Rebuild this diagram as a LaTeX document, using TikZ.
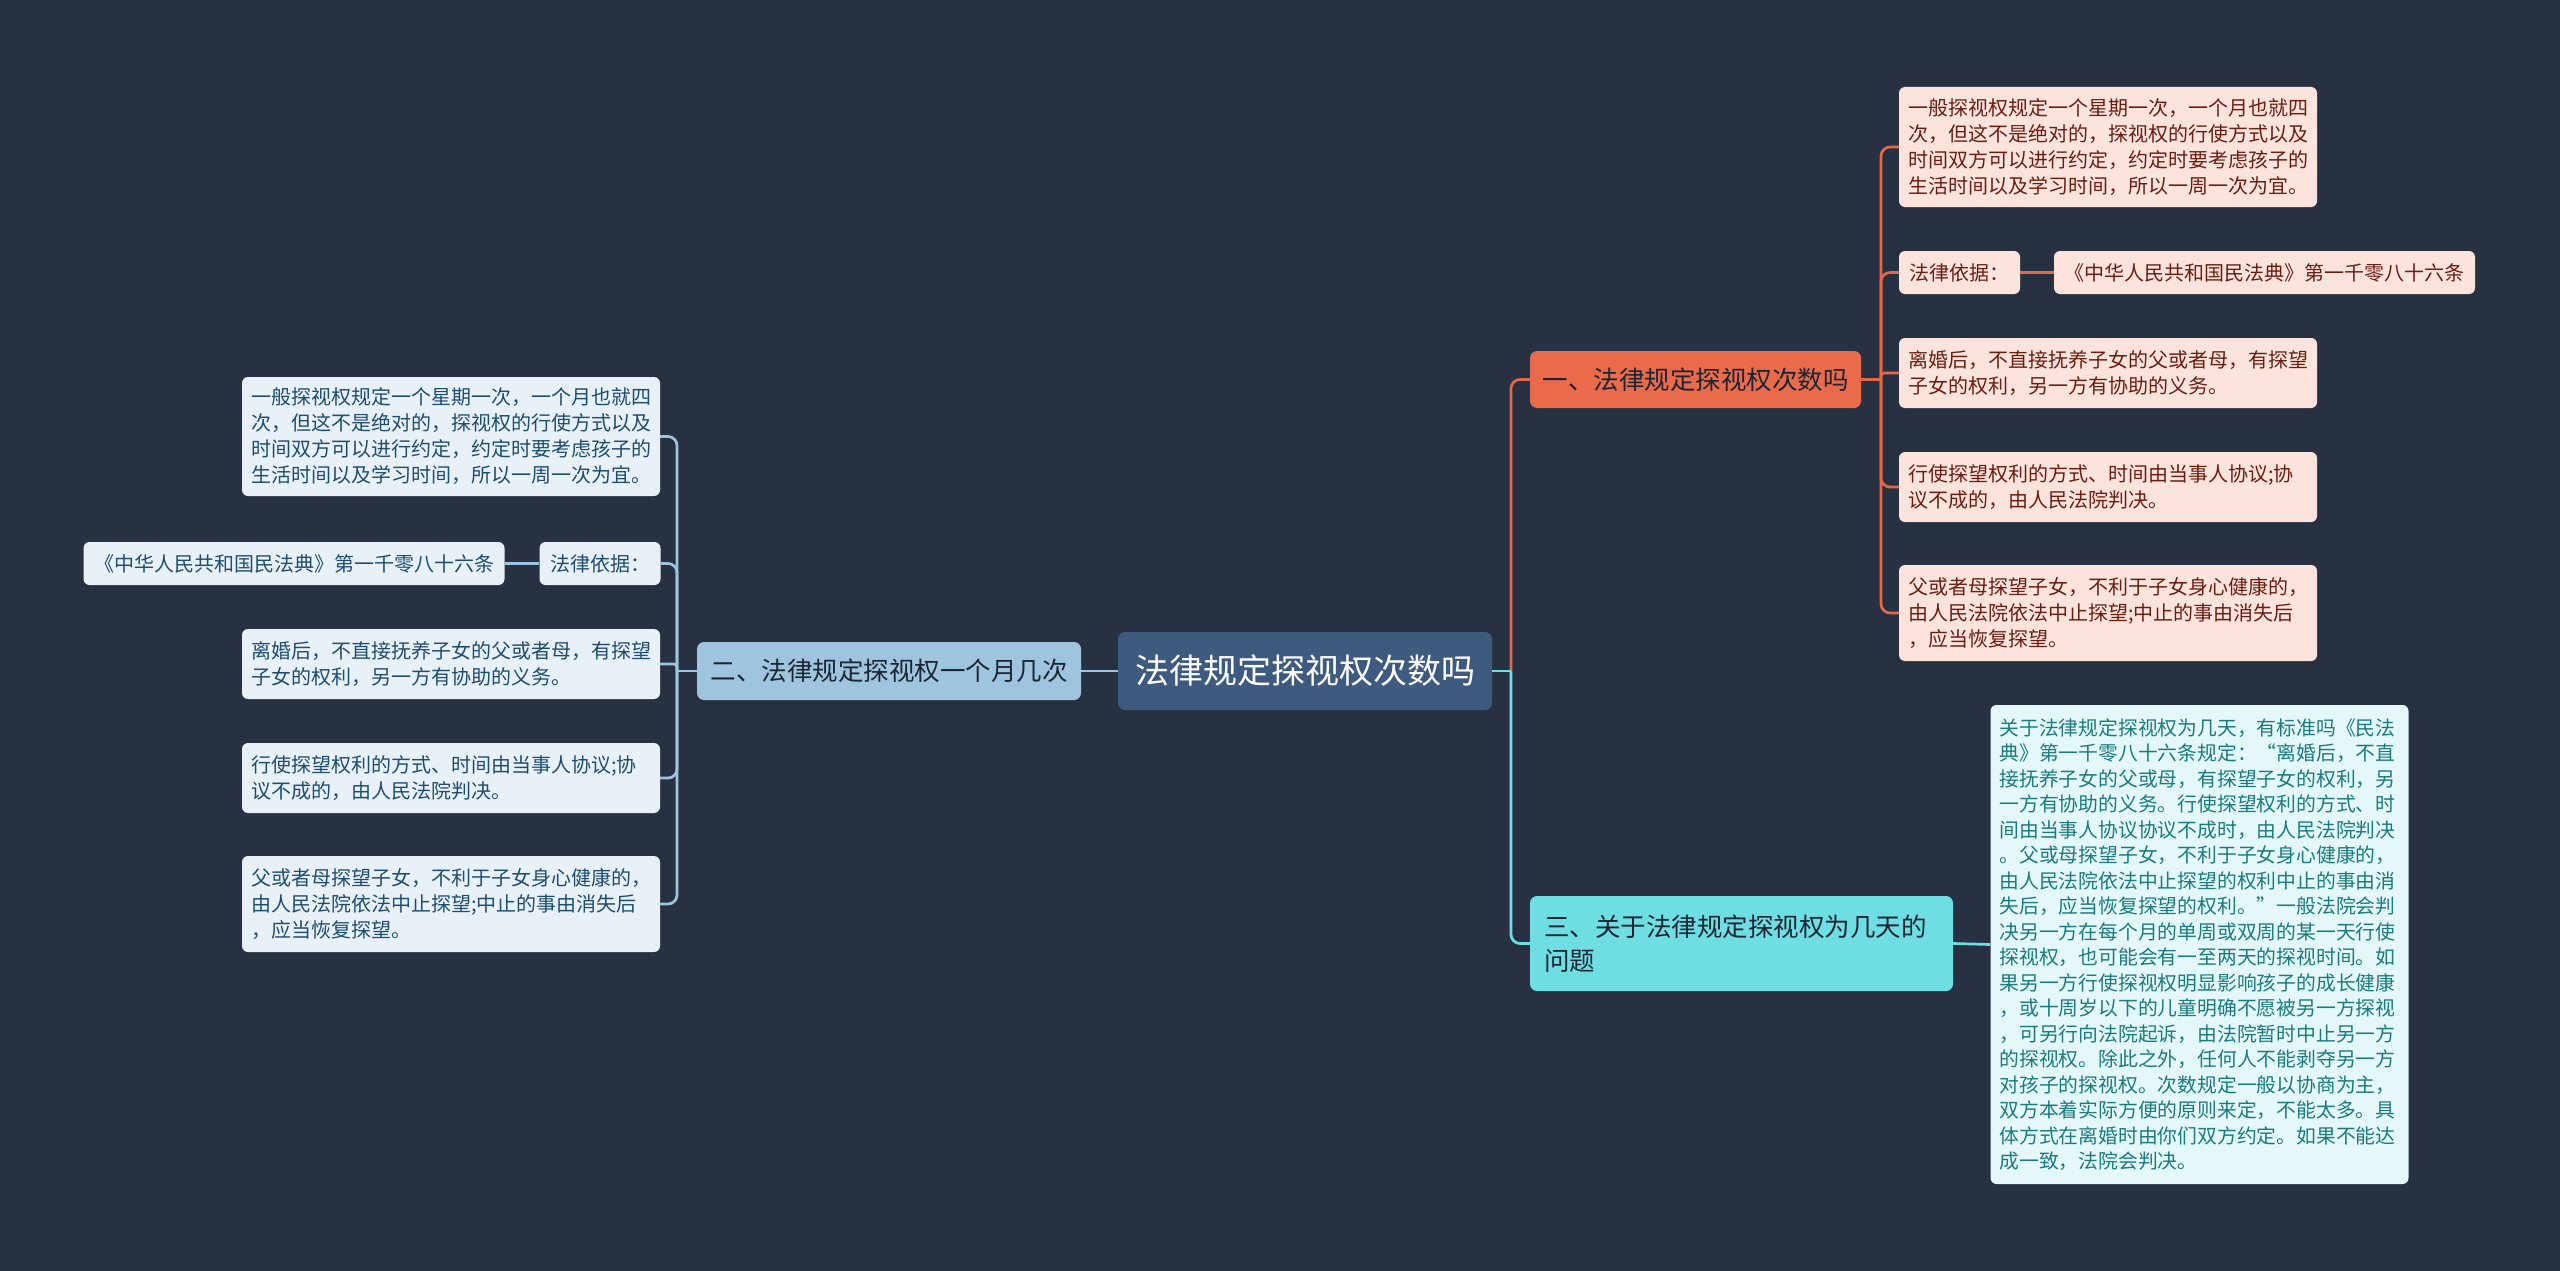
\documentclass[tikz,border=0pt]{standalone}
\usepackage{fontspec}
\setmainfont{Noto Sans CJK SC}
\definecolor{bgc}{HTML}{283142}
\definecolor{rootfill}{HTML}{3E5A7E}
\definecolor{orfill}{HTML}{EA6A4C}
\definecolor{orleaf}{HTML}{FCE4DD}
\definecolor{ortext}{HTML}{6A1E12}
\definecolor{orline}{HTML}{E2694C}
\definecolor{blfill}{HTML}{9FC4DD}
\definecolor{blleaf}{HTML}{E8F1F7}
\definecolor{bltext}{HTML}{1F4D6E}
\definecolor{blline}{HTML}{9FC4DD}
\definecolor{cyfill}{HTML}{6EDEE3}
\definecolor{cyleaf}{HTML}{E4F8F9}
\definecolor{cytext}{HTML}{1B7B7E}
\definecolor{cyline}{HTML}{6EDEE3}
\definecolor{darktext}{HTML}{1C2633}
\begin{document}
\begin{tikzpicture}[x=1pt,y=-1pt,
  boxbase/.style={rounded corners=7pt, inner ysep=0pt},
  rootbox/.style={boxbase, fill=rootfill, text=white, font=\fontsize{34}{40}\selectfont, minimum width=374pt, minimum height=78pt},
  mainbox/.style={boxbase, text=darktext, font=\fontsize{25.5}{34}\selectfont},
  leafbox/.style={boxbase, rounded corners=6pt, font=\fontsize{20}{26}\selectfont, align=left, text width=400pt, inner xsep=9pt},
  shortbox/.style={boxbase, rounded corners=6pt, font=\fontsize{20}{26}\selectfont, inner xsep=10.5pt, minimum height=43pt},
  orleafbox/.style={fill=orleaf, text=ortext},
  blleafbox/.style={fill=blleaf, text=bltext},
  cyleafbox/.style={fill=cyleaf, text=cytext},
  conn/.style={line width=2.7pt, rounded corners=9pt},
  orconn/.style={conn, draw=orline},
  blconn/.style={conn, draw=blline},
  cyconn/.style={conn, draw=cyline}
]
\fill[bgc] (0,0) rectangle (2560,1271);
\useasboundingbox (0,0) rectangle (2560,1271);

% root and main branches
\node[rootbox] (root) at (1305,671) {法律规定探视权次数吗};
\node[mainbox, fill=orfill, minimum width=331pt, minimum height=57pt] (b1) at (1695.5,379.5) {一、法律规定探视权次数吗};
\node[mainbox, fill=blfill, minimum width=384pt, minimum height=58pt] (b2) at (889,671) {二、法律规定探视权一个月几次};
\node[mainbox, fill=cyfill, align=left, text width=395pt, inner xsep=14pt, minimum height=95pt] (b3) at (1741.5,943.5) {三、关于法律规定探视权为几天的\\问题};

% right orange leaves
\node[leafbox, orleafbox, minimum height=120pt] (r1) at (2108,147) {一般探视权规定一个星期一次，一个月也就四\\次，但这不是绝对的，探视权的行使方式以及\\时间双方可以进行约定，约定时要考虑孩子的\\生活时间以及学习时间，所以一周一次为宜。};
\node[shortbox, orleafbox] (r2) at (1959.5,272.5) {法律依据：};
\node[shortbox, orleafbox, minimum width=417pt] (r2b) at (2264.5,272.5) {《中华人民共和国民法典》第一千零八十六条};
\node[leafbox, orleafbox, minimum height=70pt] (r3) at (2108,373) {离婚后，不直接抚养子女的父或者母，有探望\\子女的权利，另一方有协助的义务。};
\node[leafbox, orleafbox, minimum height=70pt] (r4) at (2108,487) {行使探望权利的方式、时间由当事人协议;协\\议不成的，由人民法院判决。};
\node[leafbox, orleafbox, minimum height=96pt] (r5) at (2108,613) {父或者母探望子女，不利于子女身心健康的，\\由人民法院依法中止探望;中止的事由消失后\\，应当恢复探望。};

% cyan leaf
\node[leafbox, cyleafbox, font=\fontsize{19.8}{25.5}\selectfont, minimum height=479pt] (c1) at (2199.5,944.5) {关于法律规定探视权为几天，有标准吗《民法\\典》第一千零八十六条规定：“离婚后，不直\\接抚养子女的父或母，有探望子女的权利，另\\一方有协助的义务。行使探望权利的方式、时\\间由当事人协议协议不成时，由人民法院判决\\。父或母探望子女，不利于子女身心健康的，\\由人民法院依法中止探望的权利中止的事由消\\失后，应当恢复探望的权利。”一般法院会判\\决另一方在每个月的单周或双周的某一天行使\\探视权，也可能会有一至两天的探视时间。如\\果另一方行使探视权明显影响孩子的成长健康\\，或十周岁以下的儿童明确不愿被另一方探视\\，可另行向法院起诉，由法院暂时中止另一方\\的探视权。除此之外，任何人不能剥夺另一方\\对孩子的探视权。次数规定一般以协商为主，\\双方本着实际方便的原则来定，不能太多。具\\体方式在离婚时由你们双方约定。如果不能达\\成一致，法院会判决。};

% left blue leaves
\node[leafbox, blleafbox, minimum height=119pt] (l1) at (451,436.5) {一般探视权规定一个星期一次，一个月也就四\\次，但这不是绝对的，探视权的行使方式以及\\时间双方可以进行约定，约定时要考虑孩子的\\生活时间以及学习时间，所以一周一次为宜。};
\node[shortbox, blleafbox] (l2) at (600,563.5) {法律依据：};
\node[shortbox, blleafbox, minimum width=418pt] (l2b) at (294,563.5) {《中华人民共和国民法典》第一千零八十六条};
\node[leafbox, blleafbox, minimum height=70pt] (l3) at (451,664) {离婚后，不直接抚养子女的父或者母，有探望\\子女的权利，另一方有协助的义务。};
\node[leafbox, blleafbox, minimum height=70pt] (l4) at (451,778) {行使探望权利的方式、时间由当事人协议;协\\议不成的，由人民法院判决。};
\node[leafbox, blleafbox, minimum height=96pt] (l5) at (451,904) {父或者母探望子女，不利于子女身心健康的，\\由人民法院依法中止探望;中止的事由消失后\\，应当恢复探望。};

% coordinates for trunks
\coordinate (rtrunk) at (1511,671);
\coordinate (otrunk) at (1881,379.5);
\coordinate (ltrunk) at (677,671);

% root connectors
\draw[cyconn] (rtrunk) |- (b3.west);
\draw[orconn] (rtrunk) |- (b1.west);
\draw[cyconn] (root.east) -- (rtrunk);
\draw[blconn] (root.west) -- (b2.east);

% orange subtree
\draw[orconn] (b1.east) -- (otrunk);
\draw[orconn] (otrunk) |- (r1.west);
\draw[orconn] (otrunk) |- (r2.west);
\draw[orconn, rounded corners=3pt] (otrunk) |- (r3.west);
\draw[orconn] (otrunk) |- (r4.west);
\draw[orconn] (otrunk) |- (r5.west);
\draw[orconn] (r2.east) -- (r2b.west);

% cyan
\draw[cyconn] (b3.east) -- (c1.west);

% left subtree
\draw[blconn] (b2.west) -- (ltrunk);
\draw[blconn] (ltrunk) |- (l1.east);
\draw[blconn] (ltrunk) |- (l2.east);
\draw[blconn, rounded corners=3pt] (ltrunk) |- (l3.east);
\draw[blconn] (ltrunk) |- (l4.east);
\draw[blconn] (ltrunk) |- (l5.east);
\draw[blconn] (l2.west) -- (l2b.east);
\end{tikzpicture}
\end{document}
